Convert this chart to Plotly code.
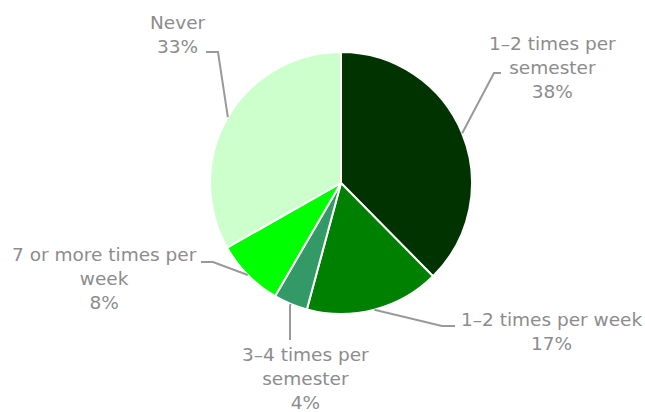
import math
import plotly.graph_objects as go

# ---- data ----
categories = ["1–2 times per semester", "1–2 times per week", "3–4 times per semester",
              "7 or more times per week", "Never"]
values = [37.6, 16.6, 4.2, 8.4, 33.2]
label_names = ["1–2 times per<br>semester", "1–2 times per week",
               "3–4 times per<br>semester", "7 or more times per<br>week", "Never"]
colors = ["#003300", "#008000", "#339966", "#00FF00", "#CCFFCC"]

# ---- layout geometry (pixels) ----
W, H = 645, 412
ML, MR, MT, MB = 210, 173, 52, 98
PW, PH = W - ML - MR, H - MT - MB
CX, CY, R = ML + PW / 2, MT + PH / 2, min(PW, PH) / 2

def px(x):
    return (x - ML) / PW

def py(y):
    return (H - MB - y) / PH

# label placement: (text centre x, text centre y, bend point, end point) in pixels
label_pos = [
    (552, 67, (494, 73), (501, 73)),
    (551, 331, (442, 326), (455, 326)),
    (305, 378, (290, 306), (290, 340)),
    (104, 278, (213, 262), (201, 262)),
    (178, 34, (218, 52), (206, 52)),
]

fig = go.Figure(go.Pie(
    labels=categories, values=values, sort=False, direction="clockwise", rotation=0,
    marker=dict(colors=colors, line=dict(color="white", width=2)),
    textinfo="none", hoverinfo="label+percent", showlegend=False,
))

total = sum(values)
cum = 0
shapes, annotations = [], []
for v, name, (tx, ty, bend, end) in zip(values, label_names, label_pos):
    mid = (cum + v / 2) / total * 2 * math.pi
    cum += v
    ax = CX + R * math.sin(mid)
    ay = CY - R * math.cos(mid)
    path = f"M {px(ax)} {py(ay)} L {px(bend[0])} {py(bend[1])} L {px(end[0])} {py(end[1])}"
    shapes.append(dict(type="path", path=path, xref="paper", yref="paper",
                       line=dict(color="#999999", width=2)))
    txt = f"{name}<br>{round(v / total * 100)}%"
    annotations.append(dict(x=px(tx), y=py(ty), xref="paper", yref="paper", text=txt,
                            showarrow=False, xanchor="center", yanchor="middle",
                            align="center",
                            font=dict(family="DejaVu Sans", size=18.5, color="#8c8c8c")))

fig.update_layout(
    width=W, height=H, margin=dict(l=ML, r=MR, t=MT, b=MB, autoexpand=False),
    paper_bgcolor="white", plot_bgcolor="white",
    shapes=shapes, annotations=annotations,
)
fig.write_html("out.html", config={"displayModeBar": False},
               post_script="document.body.style.margin='0';")
